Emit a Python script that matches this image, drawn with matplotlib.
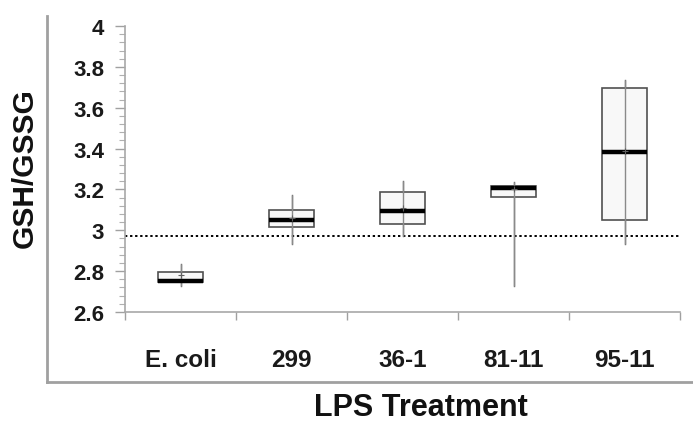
import matplotlib
matplotlib.use("Agg")
import matplotlib.pyplot as plt
from matplotlib.lines import Line2D
from matplotlib.ticker import MultipleLocator, FixedLocator

categories = ["E. coli", "299", "36-1", "81-11", "95-11"]
whisker_low = [2.726, 2.933, 2.971, 2.726, 2.933]
q1 = [2.748, 3.015, 3.031, 3.163, 3.052]
median = [2.752, 3.052, 3.096, 3.209, 3.382]
q3 = [2.797, 3.101, 3.189, 3.218, 3.695]
whisker_high = [2.835, 3.173, 3.243, 3.235, 3.736]
means = [2.78, 3.06, 3.11, 3.20, 3.39]
reference_level = 2.971
y_ticks = [2.6, 2.8, 3.0, 3.2, 3.4, 3.6, 3.8, 4.0]
y_tick_labels = ["2.6", "2.8", "3", "3.2", "3.4", "3.6", "3.8", "4"]

plt.rcParams['font.family'] = ['Liberation Sans', 'DejaVu Sans']

fig = plt.figure(figsize=(6.93, 4.31), dpi=100)
ax = fig.add_axes([125/693, 1 - 313/431, 555/693, 286/431])

positions = list(range(len(categories)))
stats = []
for i in positions:
    stats.append(dict(whislo=whisker_low[i], q1=q1[i], med=median[i], q3=q3[i],
                      whishi=whisker_high[i], mean=means[i], fliers=[]))

# whisker line running through box
ax.vlines(positions, whisker_low, whisker_high, colors="#8a8a8a", linewidth=1.0, zorder=3)

ax.bxp(stats, positions=positions, widths=0.4, showmeans=False, showcaps=False,
       patch_artist=True,
       boxprops=dict(facecolor="#f8f8f8", edgecolor="#505050", linewidth=1.2, zorder=2),
       whiskerprops=dict(color="#707070", linewidth=1.0),
       medianprops=dict(color="black", linewidth=3.2, solid_capstyle="butt", zorder=4))

ax.plot(positions, means, linestyle="none", marker="+", markersize=5,
        markeredgecolor="#606060", markeredgewidth=0.8, zorder=5)

ax.axhline(reference_level, color="black", linestyle=(0, (1.2, 1.4)), linewidth=1.4, zorder=1)

ax.set_xlim(-0.5, len(categories) - 0.5)
ax.set_ylim(2.6, 4.0)

ax.yaxis.set_major_locator(FixedLocator(y_ticks))
ax.set_yticklabels(y_tick_labels, fontsize=16, fontweight="bold", color="#1a1a1a")
ax.yaxis.set_minor_locator(MultipleLocator(0.04))
ax.tick_params(axis="y", which="major", length=7, width=1.0, color="#a0a0a0", pad=8)
ax.tick_params(axis="y", which="minor", length=4, width=0.8, color="#b0b0b0")

ax.set_xticks(positions)
ax.set_xticklabels(categories, fontsize=17.5, fontweight="bold", color="#1a1a1a")
ax.xaxis.set_minor_locator(FixedLocator([p - 0.5 for p in positions] + [len(categories) - 0.5]))
ax.tick_params(axis="x", which="major", length=0, pad=26)
ax.tick_params(axis="x", which="minor", length=6, width=1.0, color="#a0a0a0")

for side in ["top", "right"]:
    ax.spines[side].set_visible(False)
for side in ["left", "bottom"]:
    ax.spines[side].set_color("#a8a8a8")
    ax.spines[side].set_linewidth(1.2)

# outer L-shaped frame
fig.add_artist(Line2D([47/693, 47/693], [1 - 17/431, 1 - 383/431], color="#a0a0a0",
                      linewidth=2, transform=fig.transFigure))
fig.add_artist(Line2D([47/693, 1.0], [1 - 383/431, 1 - 383/431], color="#a0a0a0",
                      linewidth=2, transform=fig.transFigure))

fig.text(25/693, 1 - 168/431, "GSH/GSSG", rotation=90, ha="center", va="center",
         fontsize=21.5, fontweight="bold", color="#111111")
fig.text(421/693, 1 - 408/431, "LPS Treatment", ha="center", va="center",
         fontsize=22, fontweight="bold", color="#111111")

fig.savefig("out.png", dpi=100)
